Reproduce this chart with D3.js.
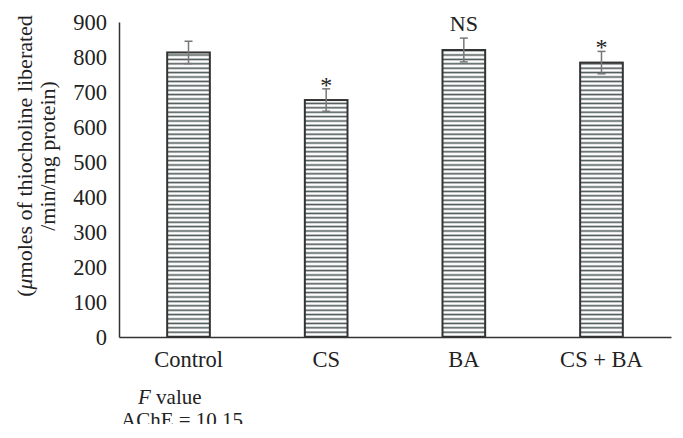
<!DOCTYPE html>
<html>
<head>
<meta charset="utf-8">
<script src="https://cdn.jsdelivr.net/npm/d3@7"></script>
<style>
  body { margin: 0; background: #fff; }
  svg { display: block; }
  text { font-family: 'Liberation Serif', 'Times New Roman', serif; fill: #222; }
</style>
</head>
<body>
<svg id="chart" width="683" height="438"></svg>
<script>
// groups and AChE activity (µmoles thiocholine / min / mg protein)
const groups = ['Control', 'CS', 'BA', 'CS + BA']
const means = [813, 677, 820, 784]
const errors = [32, 32, 34, 32]
const marks = ['', '*', 'NS', '*']
const yTicks = [0, 100, 200, 300, 400, 500, 600, 700, 800, 900]

const svg = d3.select('#chart')
const margin = { left: 119, top: 22, right: 12, bottom: 101 }
const width = 683 - margin.left - margin.right
const height = 438 - margin.top - margin.bottom

// horizontal hatch used inside the bars
const defs = svg.append('defs')
const pat = defs.append('pattern')
  .attr('id', 'hatch')
  .attr('patternUnits', 'userSpaceOnUse')
  .attr('width', 8)
  .attr('height', 4.4)
pat.append('rect').attr('width', 8).attr('height', 4.4).attr('fill', '#fff')
pat.append('line')
  .attr('x1', 0).attr('x2', 8)
  .attr('y1', 2.2).attr('y2', 2.2)
  .attr('stroke', '#4a5555')
  .attr('stroke-width', 1.6)

defs.append('clipPath').attr('id', 'cut')
  .append('rect').attr('x', 0).attr('y', 0).attr('width', 683).attr('height', 424)

const g = svg.append('g')
  .attr('transform', `translate(${margin.left},${margin.top})`)

const x = d3.scaleBand()
  .domain(groups)
  .range([0, width])
  .paddingInner(0.69)
  .paddingOuter(0.35)

const y = d3.scaleLinear()
  .domain([0, 900])
  .range([height, 0])

// y axis: line plus labels, no tick marks
const yAxis = g.append('g')
  .call(d3.axisLeft(y).tickValues(yTicks).tickSize(0).tickPadding(12))
yAxis.select('.domain').attr('stroke', '#333').attr('stroke-width', 1.5)
yAxis.selectAll('text')
  .style('font-size', '22.5px')
  .style('font-family', "'Liberation Serif', serif")
  .attr('fill', '#222')

// bars
g.selectAll('.bar')
  .data(groups)
  .join('rect')
  .attr('class', 'bar')
  .attr('x', d => x(d))
  .attr('y', (d, i) => y(means[i]))
  .attr('width', x.bandwidth())
  .attr('height', (d, i) => height - y(means[i]))
  .attr('fill', 'url(#hatch)')
  .attr('stroke', '#333')
  .attr('stroke-width', 2)

// x axis drawn after the bars so it sits on top
const xAxis = g.append('g')
  .attr('transform', `translate(0,${height})`)
  .call(d3.axisBottom(x).tickSize(0).tickPadding(14))
xAxis.select('.domain').attr('stroke', '#333').attr('stroke-width', 1.5)
xAxis.selectAll('text')
  .style('font-size', '22.5px')
  .style('font-family', "'Liberation Serif', serif")
  .attr('fill', '#222')

// error bars
const cap = 4
const err = g.selectAll('.err')
  .data(groups)
  .join('g')
  .attr('class', 'err')
  .attr('stroke', '#777')
  .attr('stroke-width', 1.5)
err.append('line')
  .attr('x1', d => x(d) + x.bandwidth() / 2)
  .attr('x2', d => x(d) + x.bandwidth() / 2)
  .attr('y1', (d, i) => y(means[i] - errors[i]))
  .attr('y2', (d, i) => y(means[i] + errors[i]))
err.append('line')
  .attr('x1', d => x(d) + x.bandwidth() / 2 - cap)
  .attr('x2', d => x(d) + x.bandwidth() / 2 + cap)
  .attr('y1', (d, i) => y(means[i] + errors[i]))
  .attr('y2', (d, i) => y(means[i] + errors[i]))
err.append('line')
  .attr('x1', d => x(d) + x.bandwidth() / 2 - cap)
  .attr('x2', d => x(d) + x.bandwidth() / 2 + cap)
  .attr('y1', (d, i) => y(means[i] - errors[i]))
  .attr('y2', (d, i) => y(means[i] - errors[i]))

// significance marks
g.selectAll('.mark')
  .data(groups)
  .join('text')
  .attr('class', 'mark')
  .attr('x', d => x(d) + x.bandwidth() / 2)
  .attr('y', (d, i) => y(means[i] + errors[i]) + (marks[i] === '*' ? 4 : -7))
  .attr('text-anchor', 'middle')
  .style('font-size', (d, i) => marks[i] === '*' ? '24px' : '22px')
  .text((d, i) => marks[i])

// y axis title, two rotated lines
const yTitle = ['(\u03bcmoles of thiocholine liberated', '/min/mg protein)']
yTitle.forEach((t, i) => {
  const tx = svg.append('text')
    .attr('transform', `translate(${32 + i * 23},156) rotate(-90)`)
    .attr('text-anchor', 'middle')
    .style('font-size', '22px')
  if (i === 0) {
    tx.append('tspan').text('(')
    tx.append('tspan').style('font-style', 'italic').text('\u03bc')
    tx.append('tspan').text(t.slice(2))
  } else {
    tx.text(t)
  }
})

// F value note, bottom edge cut like the source
const note = svg.append('g').attr('clip-path', 'url(#cut)')
const f = note.append('text').attr('x', 138).attr('y', 404).style('font-size', '21px')
f.append('tspan').style('font-style', 'italic').text('F')
f.append('tspan').text(' value')
note.append('text').attr('x', 121).attr('y', 427).style('font-size', '21px').text('AChE = 10.15')
</script>
</body>
</html>
